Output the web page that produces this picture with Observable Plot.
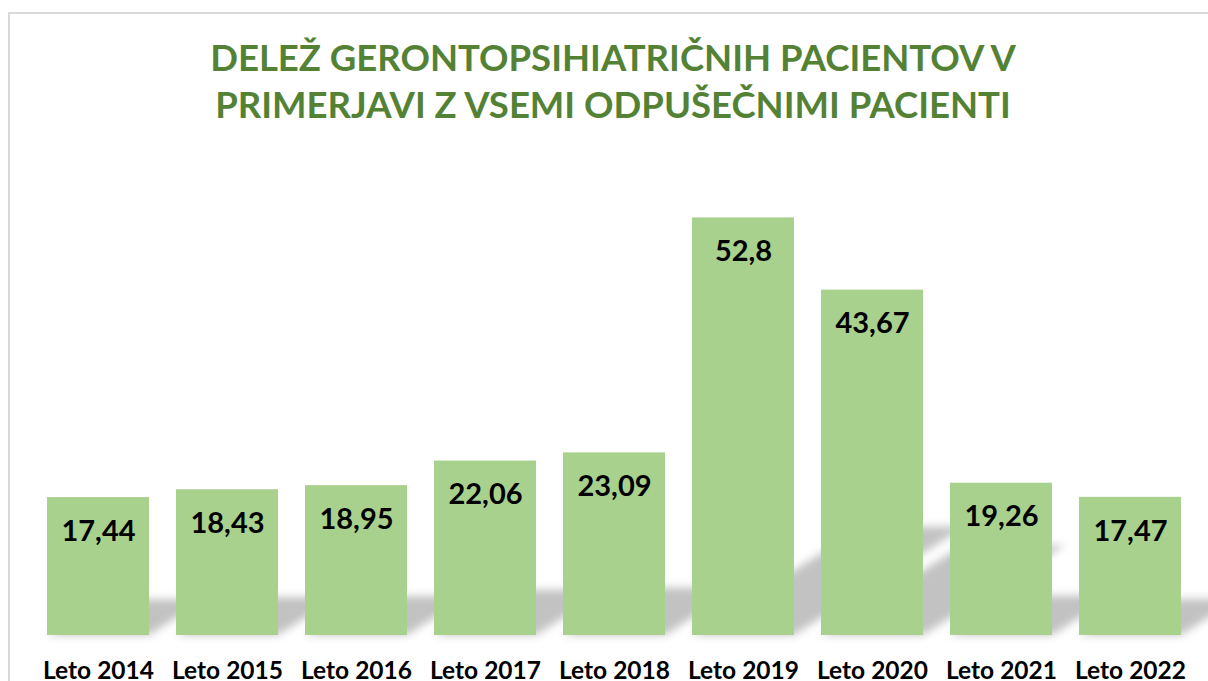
<!DOCTYPE html>
<html>
<head>
<meta charset="utf-8">
<script src="https://cdn.jsdelivr.net/npm/d3@7"></script>
<script src="https://cdn.jsdelivr.net/npm/@observablehq/plot@0.6"></script>
<style>
  html, body { margin: 0; padding: 0; background: #fff; overflow: hidden; }
  #frame { position: absolute; left: 8px; top: 12px; width: 1300px; height: 1000px; border: 2px solid #d9d9d9; box-sizing: border-box; }
  #wrap { position: relative; width: 1208px; height: 681px; }
  #title { position: relative; height: 150px; box-sizing: border-box; padding-top: 34px; margin-left: 10px; width: 1206px; text-align: center;
           font-family: Lato, "Open Sans", sans-serif; font-weight: 700; font-size: 36.5px; line-height: 47px; color: #548235; }
  #chart { position: relative; }
</style>
</head>
<body>
<div id="frame"></div>
<div id="wrap">
  <div id="title">DELEŽ GERONTOPSIHIATRIČNIH PACIENTOV V<br>PRIMERJAVI Z VSEMI ODPUŠEČNIMI PACIENTI</div>
  <div id="chart"></div>
</div>
<script>
const categories = ["Leto 2014", "Leto 2015", "Leto 2016", "Leto 2017", "Leto 2018", "Leto 2019", "Leto 2020", "Leto 2021", "Leto 2022"];
const values = [17.44, 18.43, 18.95, 22.06, 23.09, 52.8, 43.67, 19.26, 17.47];

const data = categories.map((c, i) => ({category: c, value: values[i], label: String(values[i]).replace(".", ",")}));

const chart = Plot.plot({
  width: 1208,
  height: 531,
  marginTop: 50,
  marginBottom: 46,
  marginLeft: 19,
  marginRight: 0,
  style: {background: "none", fontFamily: "Lato, 'Open Sans', sans-serif", fontSize: "24px", fontWeight: "bold", color: "#000"},
  x: {domain: categories, padding: 0.21, label: null},
  y: {domain: [0, 55], axis: null},
  marks: [
    Plot.barY(data, {x: "category", y: "value", fill: "#111", fillOpacity: 0.24}),
    Plot.barY(data, {x: "category", y: "value", fill: "#a9d18e"}),
    Plot.text(data, {x: "category", y: "value", text: "label", dy: 34, lineAnchor: "middle", fontSize: 29, fontWeight: "bold", fill: "#000"}),
    Plot.axisX({tickSize: 0, tickPadding: 26, fontSize: 24.5, fontWeight: "bold", fill: "#000", label: null})
  ]
});

document.getElementById("chart").appendChild(chart);

// perspective shadow: shear the first bar layer about the baseline, then blur it
const NS = "http://www.w3.org/2000/svg";
const yb = chart.scale("y").apply(0);
const defs = document.createElementNS(NS, "defs");
const filter = document.createElementNS(NS, "filter");
filter.setAttribute("id", "shadowBlur");
filter.setAttribute("x", "-20%"); filter.setAttribute("y", "-50%");
filter.setAttribute("width", "140%"); filter.setAttribute("height", "200%");
const blur = document.createElementNS(NS, "feGaussianBlur");
blur.setAttribute("stdDeviation", "4");
filter.appendChild(blur);
defs.appendChild(filter);
chart.insertBefore(defs, chart.firstChild);

const barGroups = Array.from(chart.querySelectorAll("g")).filter(g => g.querySelector(":scope > rect"));
const shadow = barGroups[0];
if (shadow) {
  const wrapper = document.createElementNS(NS, "g");
  shadow.parentNode.insertBefore(wrapper, shadow);
  wrapper.appendChild(shadow);
  const a = 0.41, s = 0.26;
  const inner = document.createElementNS(NS, "g");
  wrapper.appendChild(inner);
  inner.appendChild(shadow);
  inner.setAttribute("transform", `matrix(1,0,${-a},${s},${a * yb},${(1 - s) * yb})`);
  wrapper.setAttribute("filter", "url(#shadowBlur)");
}
</script>
</body>
</html>
